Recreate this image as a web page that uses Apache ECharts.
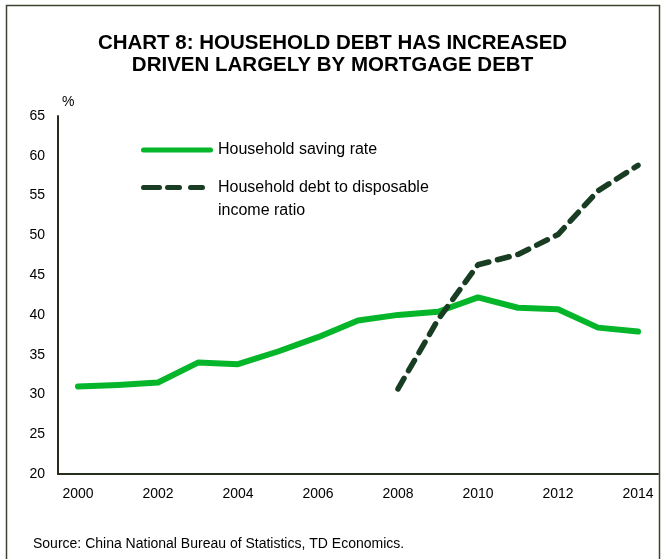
<!DOCTYPE html>
<html>
<head>
<meta charset="utf-8">
<script src="https://cdn.jsdelivr.net/npm/echarts@6/dist/echarts.min.js"></script>
<style>
html,body{margin:0;padding:0;background:#fff;}
#chart{width:665px;height:559px;}
</style>
</head>
<body>
<div id="chart"></div>
<script>
const years = ['2000','2001','2002','2003','2004','2005','2006','2007','2008','2009','2010','2011','2012','2013','2014'];
const savingRate = [31.0, 31.2, 31.5, 34.0, 33.8, 35.4, 37.2, 39.3, 40.0, 40.4, 42.2, 40.9, 40.7, 38.4, 37.9];
const debtRatio = [null, null, null, null, null, null, null, null, 30.7, 39.4, 46.3, 47.6, 50.1, 55.6, 58.8];
const seriesNames = ['Household saving rate', 'Household debt to disposable income ratio'];
const legendLabels = ['Household saving rate', '\nHousehold debt to disposable\nincome ratio'];
const titleText = 'CHART 8: HOUSEHOLD DEBT HAS INCREASED\nDRIVEN LARGELY BY MORTGAGE DEBT';
const sourceText = 'Source: China National Bureau of Statistics, TD Economics.';

const FONT = '"Liberation Sans", Arial, sans-serif';
function capsule(x0, x1) {
  return 'M' + (x0 + 2.5) + ',0 L' + (x1 - 2.5) + ',0 A2.5,2.5 0 0 1 ' + (x1 - 2.5) + ',5 L' + (x0 + 2.5) + ',5 A2.5,2.5 0 0 1 ' + (x0 + 2.5) + ',0 Z ';
}
const SOLID_ICON = 'path://' + capsule(0, 72) + 'M72,0 L72,5 Z';
const DASH_ICON = 'path://' + capsule(0, 21) + capsule(24, 41) + capsule(47, 64) + 'M72,0 L72,5 Z';

const chart = echarts.init(document.getElementById('chart'), null, {renderer: 'canvas'});
chart.setOption({
  animation: false,
  backgroundColor: '#ffffff',
  textStyle: {fontFamily: FONT},
  title: {
    text: titleText,
    left: 'center',
    top: 27,
    textStyle: {fontFamily: FONT, fontSize: 20.5, fontWeight: 'bold', color: '#000', lineHeight: 22}
  },
  graphic: [
    {type: 'rect', shape: {x: 6.5, y: 5.5, width: 653, height: 570}, style: {fill: 'none', stroke: '#3a4430', lineWidth: 1.5}, silent: true},
    {type: 'text', left: 33, top: 537, style: {text: sourceText, font: '14px "Liberation Sans", Arial, sans-serif', fill: '#000'}}
  ],
  legend: [
    {
      data: [{name: seriesNames[0], icon: SOLID_ICON}], left: 141, top: 140, padding: 0,
      itemWidth: 72, itemHeight: 5, itemGap: 8,
      formatter: function () { return legendLabels[0]; },
      textStyle: {fontFamily: FONT, fontSize: 16, color: '#000', lineHeight: 20}
    },
    {
      data: [{name: seriesNames[1], icon: DASH_ICON}], left: 141, top: 153, padding: 0,
      itemWidth: 72, itemHeight: 5, itemGap: 8,
      formatter: function () { return legendLabels[1]; },
      textStyle: {fontFamily: FONT, fontSize: 16, color: '#000', lineHeight: 23}
    }
  ],
  grid: {left: 58, right: 7, top: 116, bottom: 85, containLabel: false},
  xAxis: {
    type: 'category',
    data: years,
    boundaryGap: true,
    axisLine: {lineStyle: {color: '#262e1e', width: 2}},
    axisTick: {show: false},
    axisLabel: {interval: 1, margin: 13, fontSize: 14, color: '#000', fontFamily: FONT}
  },
  yAxis: {
    type: 'value',
    min: 20, max: 65, interval: 5,
    name: '%',
    nameLocation: 'end',
    nameGap: 7,
    nameTextStyle: {fontSize: 14, color: '#000', fontFamily: FONT, align: 'left', padding: [0, 0, 0, 4]},
    axisLine: {show: true, lineStyle: {color: '#262e1e', width: 2}},
    axisTick: {show: false},
    splitLine: {show: false},
    axisLabel: {margin: 13, fontSize: 14, color: '#000', fontFamily: FONT}
  },
  series: [
    {
      name: seriesNames[0], type: 'line', data: savingRate,
      symbol: 'none', showSymbol: false,
      lineStyle: {color: '#05b62a', width: 6, cap: 'round', join: 'round'},
      itemStyle: {color: '#05b62a'}
    },
    {
      name: seriesNames[1], type: 'line', data: debtRatio,
      symbol: 'none', showSymbol: false, connectNulls: false,
      lineStyle: {color: '#183d22', width: 5.5, type: [12, 9], cap: 'round', join: 'round'},
      itemStyle: {color: '#183d22'}
    }
  ]
});
</script>
</body>
</html>
